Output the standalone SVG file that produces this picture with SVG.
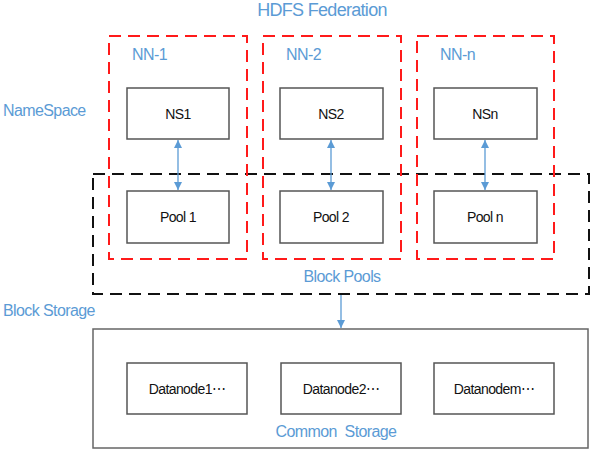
<svg xmlns="http://www.w3.org/2000/svg" width="608" height="466" viewBox="0 0 608 466">
<style>
.lbl{font-family:"Liberation Sans",Arial,sans-serif;fill:#5B9BD5;font-size:16px;letter-spacing:-0.6px}
.txt{font-family:"Liberation Sans",Arial,sans-serif;fill:#111;font-size:14px;letter-spacing:-0.6px;text-anchor:middle}
.box{fill:#fff;stroke:#555;stroke-width:1.5}
.nn{fill:none;stroke:#ff1a1a;stroke-width:2;stroke-dasharray:12 7}
.bp{fill:none;stroke:#111;stroke-width:2;stroke-dasharray:12 7}
.cs{fill:#fff;stroke:#666;stroke-width:1.5}
.conn{stroke:#5B9BD5;stroke-width:1.3;fill:none}
</style>
<defs>
<marker id="ah" viewBox="0 0 10 10" refX="10" refY="5" markerWidth="8" markerHeight="8" markerUnits="userSpaceOnUse" orient="auto-start-reverse">
<path d="M0,0 L10,5 L0,10 z" fill="#5B9BD5"/>
</marker>
</defs>
<rect width="608" height="466" fill="#fff"/>
<text class="lbl" x="322" y="16" text-anchor="middle" style="font-size:18px;letter-spacing:-0.7px">HDFS Federation</text>
<text class="lbl" x="3" y="116">NameSpace</text>
<text class="lbl" x="3" y="316">Block Storage</text>

<g id="common-storage">
<rect class="cs" x="93" y="329" width="495" height="119"/>
<text class="lbl" x="336" y="437" text-anchor="middle" xml:space="preserve">Common  Storage</text>
</g>
<g id="block-pools">
<rect class="bp" x="93" y="174" width="496" height="120"/>
<text class="lbl" x="342" y="282" text-anchor="middle">Block Pools</text>
</g>
<g id="nn-1">
<rect class="nn" x="109" y="36" width="138" height="223"/>
<text class="lbl" x="132" y="60">NN-1</text>
</g>
<g id="nn-2">
<rect class="nn" x="263" y="36" width="138" height="223"/>
<text class="lbl" x="286" y="60">NN-2</text>
</g>
<g id="nn-n">
<rect class="nn" x="417" y="36" width="137" height="223"/>
<text class="lbl" x="440" y="60">NN-n</text>
</g>
<g id="ns1"><rect class="box" x="127" y="88" width="102" height="51"/><text class="txt" x="178" y="119">NS1</text></g>
<g id="ns2"><rect class="box" x="280" y="88" width="103" height="51"/><text class="txt" x="331" y="119">NS2</text></g>
<g id="nsn"><rect class="box" x="434" y="88" width="103" height="51"/><text class="txt" x="485" y="119">NSn</text></g>
<g id="pool1"><rect class="box" x="127" y="191" width="102" height="52"/><text class="txt" x="178" y="222">Pool 1</text></g>
<g id="pool2"><rect class="box" x="280" y="191" width="103" height="52"/><text class="txt" x="331" y="222">Pool 2</text></g>
<g id="pooln"><rect class="box" x="434" y="191" width="103" height="52"/><text class="txt" x="485" y="222">Pool n</text></g>
<g id="dn1"><rect class="box" x="127" y="363" width="120" height="51"/><text class="txt" x="187" y="394">Datanode1⋯</text></g>
<g id="dn2"><rect class="box" x="281" y="363" width="120" height="51"/><text class="txt" x="341" y="394">Datanode2⋯</text></g>
<g id="dnm"><rect class="box" x="434" y="363" width="120" height="51"/><text class="txt" x="494" y="394">Datanodem⋯</text></g>

<g id="connectors">
<line class="conn" x1="178" y1="140" x2="178" y2="190" marker-start="url(#ah)" marker-end="url(#ah)"/>
<line class="conn" x1="331" y1="140" x2="331" y2="190" marker-start="url(#ah)" marker-end="url(#ah)"/>
<line class="conn" x1="485" y1="140" x2="485" y2="190" marker-start="url(#ah)" marker-end="url(#ah)"/>
<line class="conn" x1="341" y1="295" x2="341" y2="328" marker-end="url(#ah)"/>
</g>
</svg>
